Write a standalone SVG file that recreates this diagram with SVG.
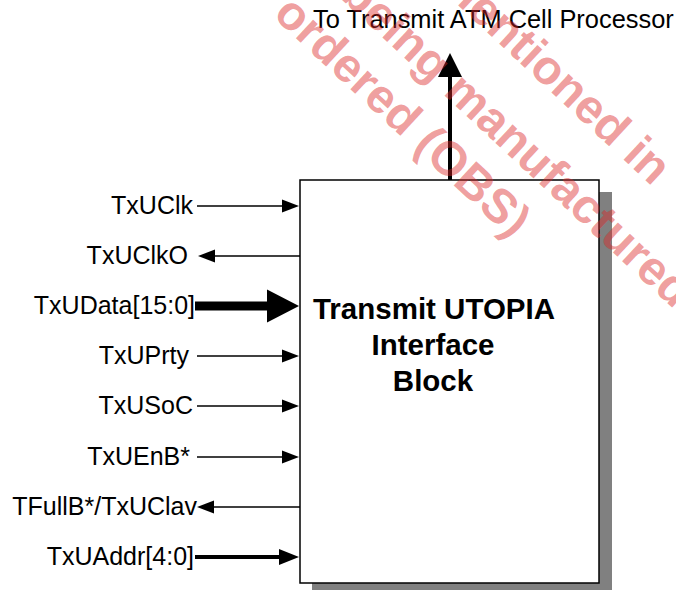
<svg xmlns="http://www.w3.org/2000/svg" width="676" height="590" viewBox="0 0 676 590">
<style>
.lbl{font-family:"Liberation Sans",Arial,sans-serif;font-size:25px;fill:#000}
.top{font-size:25.4px}
.title{font-family:"Liberation Sans",Arial,sans-serif;font-size:29.5px;font-weight:bold;fill:#000}
.wm{font-family:"Liberation Sans",Arial,sans-serif;font-size:48px;font-weight:bold;fill:#dc2828;fill-opacity:.45}
.thin{stroke:#000;stroke-width:1.5;fill:none}
.mid{stroke:#000;stroke-width:4;fill:none}
.thick{stroke:#000;stroke-width:9;fill:none}
</style>
<defs>
<marker id="ahThin" markerUnits="userSpaceOnUse" viewBox="0 -7 17 14" markerWidth="17" markerHeight="14" refX="0" refY="0" orient="auto" overflow="visible"><path d="M0,-6.5 L17,0 L0,6.5 Z" fill="#000"/></marker>
<marker id="ahMid" markerUnits="userSpaceOnUse" viewBox="0 -9 20 18" markerWidth="20" markerHeight="18" refX="0" refY="0" orient="auto" overflow="visible"><path d="M0,-8 L20,0 L0,8 Z" fill="#000"/></marker>
<marker id="ahUp" markerUnits="userSpaceOnUse" viewBox="0 -12 24 24" markerWidth="24" markerHeight="24" refX="0" refY="0" orient="auto" overflow="visible"><path d="M0,-12 L24,0 L0,12 Z" fill="#000"/></marker>
<marker id="ahThick" markerUnits="userSpaceOnUse" viewBox="0 -17 32 34" markerWidth="32" markerHeight="34" refX="0" refY="0" orient="auto" overflow="visible"><path d="M0,-16.5 L32,0 L0,16.5 Z" fill="#000"/></marker>
</defs>
<g id="block">
<rect x="312" y="192" width="300" height="403" fill="#808080"/>
<rect x="300" y="180" width="299" height="403" fill="#fff" stroke="#000" stroke-width="1.5"/>
<text class="title" x="434" y="319" text-anchor="middle">Transmit UTOPIA</text>
<text class="title" x="433" y="355" text-anchor="middle">Interface</text>
<text class="title" x="433" y="391" text-anchor="middle">Block</text>
</g>
<g id="labels">
<text class="lbl top" x="313" y="28">To Transmit ATM Cell Processor</text>
<text class="lbl" x="193" y="214" text-anchor="end">TxUClk</text>
<text class="lbl" x="188" y="264" text-anchor="end">TxUClkO</text>
<text class="lbl" x="195" y="314" text-anchor="end">TxUData[15:0]</text>
<text class="lbl" x="189" y="364" text-anchor="end">TxUPrty</text>
<text class="lbl" x="193" y="414" text-anchor="end">TxUSoC</text>
<text class="lbl" x="190" y="465" text-anchor="end">TxUEnB*</text>
<text class="lbl" x="197" y="515" text-anchor="end">TFullB*/TxUClav</text>
<text class="lbl" x="194" y="565" text-anchor="end">TxUAddr[4:0]</text>
</g>
<g id="connectors">
<line class="mid" x1="450" y1="180" x2="450" y2="77" marker-end="url(#ahUp)"/>
<line class="thin" x1="197" y1="206" x2="282" y2="206" marker-end="url(#ahThin)"/>
<line class="thin" x1="300" y1="256" x2="215" y2="256" marker-end="url(#ahThin)"/>
<line class="thick" x1="195" y1="306" x2="267" y2="306" marker-end="url(#ahThick)"/>
<line class="thin" x1="197" y1="356" x2="282" y2="356" marker-end="url(#ahThin)"/>
<line class="thin" x1="197" y1="406" x2="282" y2="406" marker-end="url(#ahThin)"/>
<line class="thin" x1="197" y1="457" x2="282" y2="457" marker-end="url(#ahThin)"/>
<line class="thin" x1="300" y1="507" x2="214" y2="507" marker-end="url(#ahThin)"/>
<line class="mid" x1="195" y1="557" x2="279" y2="557" marker-end="url(#ahMid)"/>
</g>
<g id="watermark">
<text class="wm" transform="translate(272,16) rotate(43)">ordered (OBS)</text>
<text class="wm" transform="translate(339,-3) rotate(43)">being manufactured</text>
<text class="wm" transform="translate(434,-17) rotate(43)">mentioned in</text>
</g>
</svg>
